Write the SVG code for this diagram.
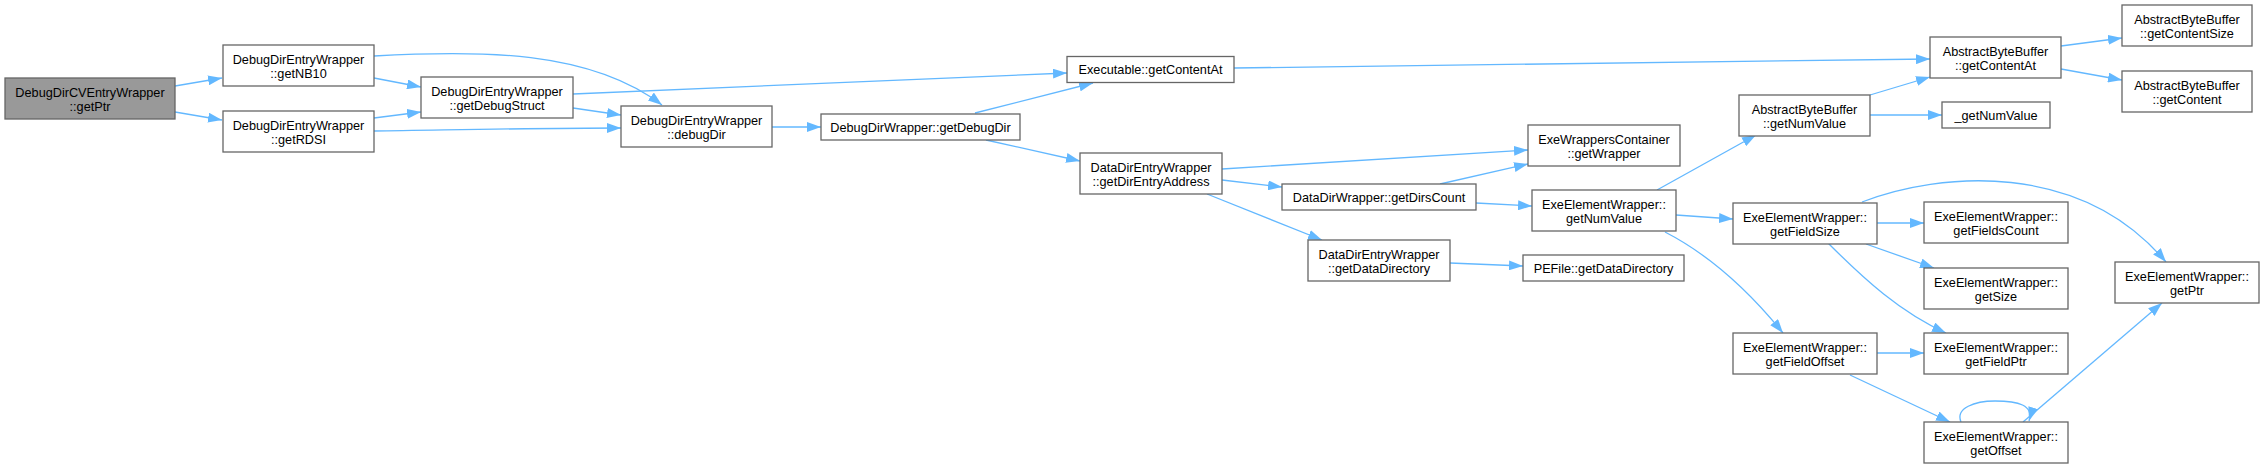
<svg xmlns="http://www.w3.org/2000/svg" width="2264" height="469" viewBox="0 0 2264 469">
<style>
.n rect{fill:#fff;stroke:#666;stroke-width:1.3}
.n.root rect{fill:#999}
.n text{font-family:"Liberation Sans",Arial,Helvetica,sans-serif;font-size:12.7px;fill:#000;text-anchor:middle}
.e path{fill:none;stroke:#63b8ff;stroke-width:1.3;marker-end:url(#ah)}
</style>
<defs>
<marker id="ah" viewBox="0 0 14 10" refX="14" refY="5" markerWidth="14" markerHeight="10" markerUnits="userSpaceOnUse" orient="auto">
<path d="M0,0 L14,5 L0,10z" fill="#63b8ff" stroke="none"/>
</marker>
</defs>
<rect width="2264" height="469" fill="#fff"/>
<g class="e" id="edges">
<path d="M175,86 L222,78"/>
<path d="M175,112 L222,120"/>
<path d="M374,78 L421,87"/>
<path d="M374,56 C480,50 590,50 662,105"/>
<path d="M374,118 L421,112"/>
<path d="M374,131 C450,130 540,128 621,128"/>
<path d="M573,94 L1067,73"/>
<path d="M573,108 L621,115"/>
<path d="M772,127 L821,127"/>
<path d="M975,113 L1093,83"/>
<path d="M986,140 L1080,161"/>
<path d="M1234,68 L1930,59"/>
<path d="M1222,169 L1528,150"/>
<path d="M1222,180 L1282,187"/>
<path d="M1207,194 L1322,240"/>
<path d="M1440,184 L1528,164"/>
<path d="M1476,203 L1532,206"/>
<path d="M1450,263 L1523,266"/>
<path d="M1657,190 L1756,135"/>
<path d="M1676,215 L1733,219"/>
<path d="M1665,232 C1700,250 1740,280 1783,333"/>
<path d="M1870,95 L1930,77"/>
<path d="M1870,115 L1942,115"/>
<path d="M2061,46 L2122,38"/>
<path d="M2061,69 L2122,80"/>
<path d="M1877,223 L1924,223"/>
<path d="M1866,244 L1934,268"/>
<path d="M1828,243 C1865,280 1900,312 1946,333"/>
<path d="M1862,202 C1940,172 2080,160 2166,262"/>
<path d="M1877,353 L1924,353"/>
<path d="M1850,375 L1950,422"/>
<path d="M1961,422 C1955,408 1975,401 1995,401 C2018,401 2034,405 2029,421"/>
<path d="M2023,422 L2162,303"/>
</g>
<g class="n root" id="n0"><rect x="5" y="78" width="170" height="41"/><text x="90" y="96.5">DebugDirCVEntryWrapper</text><text x="90" y="110.5">::getPtr</text></g>
<g class="n" id="n1"><rect x="223" y="45" width="151" height="41"/><text x="298.5" y="63.5">DebugDirEntryWrapper</text><text x="298.5" y="77.5">::getNB10</text></g>
<g class="n" id="n2"><rect x="223" y="111" width="151" height="41"/><text x="298.5" y="129.5">DebugDirEntryWrapper</text><text x="298.5" y="143.5">::getRDSI</text></g>
<g class="n" id="n3"><rect x="421" y="77" width="152" height="41"/><text x="497" y="95.5">DebugDirEntryWrapper</text><text x="497" y="109.5">::getDebugStruct</text></g>
<g class="n" id="n4"><rect x="621" y="106" width="151" height="41"/><text x="696.5" y="124.5">DebugDirEntryWrapper</text><text x="696.5" y="138.5">::debugDir</text></g>
<g class="n" id="n5"><rect x="821" y="114" width="199" height="26"/><text x="920.5" y="131.5">DebugDirWrapper::getDebugDir</text></g>
<g class="n" id="n6"><rect x="1067" y="56.5" width="167" height="26"/><text x="1150.5" y="74">Executable::getContentAt</text></g>
<g class="n" id="n7"><rect x="1080" y="153" width="142" height="41"/><text x="1151" y="171.5">DataDirEntryWrapper</text><text x="1151" y="185.5">::getDirEntryAddress</text></g>
<g class="n" id="n8"><rect x="1528" y="125" width="152" height="41"/><text x="1604" y="143.5">ExeWrappersContainer</text><text x="1604" y="157.5">::getWrapper</text></g>
<g class="n" id="n9"><rect x="1282" y="184" width="194" height="26"/><text x="1379" y="201.5">DataDirWrapper::getDirsCount</text></g>
<g class="n" id="n10"><rect x="1532" y="190" width="144" height="41"/><text x="1604" y="208.5">ExeElementWrapper::</text><text x="1604" y="222.5">getNumValue</text></g>
<g class="n" id="n11"><rect x="1308" y="240" width="142" height="41"/><text x="1379" y="258.5">DataDirEntryWrapper</text><text x="1379" y="272.5">::getDataDirectory</text></g>
<g class="n" id="n12"><rect x="1523" y="255" width="161" height="26"/><text x="1603.5" y="272.5">PEFile::getDataDirectory</text></g>
<g class="n" id="n13"><rect x="1739" y="95" width="131" height="41"/><text x="1804.5" y="113.5">AbstractByteBuffer</text><text x="1804.5" y="127.5">::getNumValue</text></g>
<g class="n" id="n14"><rect x="1942" y="102" width="108" height="26"/><text x="1996" y="119.5">_getNumValue</text></g>
<g class="n" id="n15"><rect x="1930" y="37" width="131" height="41"/><text x="1995.5" y="55.5">AbstractByteBuffer</text><text x="1995.5" y="69.5">::getContentAt</text></g>
<g class="n" id="n16"><rect x="2122" y="5" width="130" height="41"/><text x="2187" y="23.5">AbstractByteBuffer</text><text x="2187" y="37.5">::getContentSize</text></g>
<g class="n" id="n17"><rect x="2122" y="71" width="130" height="41"/><text x="2187" y="89.5">AbstractByteBuffer</text><text x="2187" y="103.5">::getContent</text></g>
<g class="n" id="n18"><rect x="1733" y="203" width="144" height="41"/><text x="1805" y="221.5">ExeElementWrapper::</text><text x="1805" y="235.5">getFieldSize</text></g>
<g class="n" id="n19"><rect x="1733" y="333" width="144" height="41"/><text x="1805" y="351.5">ExeElementWrapper::</text><text x="1805" y="365.5">getFieldOffset</text></g>
<g class="n" id="n20"><rect x="1924" y="202" width="144" height="41"/><text x="1996" y="220.5">ExeElementWrapper::</text><text x="1996" y="234.5">getFieldsCount</text></g>
<g class="n" id="n21"><rect x="1924" y="268" width="144" height="41"/><text x="1996" y="286.5">ExeElementWrapper::</text><text x="1996" y="300.5">getSize</text></g>
<g class="n" id="n22"><rect x="1924" y="333" width="144" height="41"/><text x="1996" y="351.5">ExeElementWrapper::</text><text x="1996" y="365.5">getFieldPtr</text></g>
<g class="n" id="n23"><rect x="1924" y="422" width="144" height="41"/><text x="1996" y="440.5">ExeElementWrapper::</text><text x="1996" y="454.5">getOffset</text></g>
<g class="n" id="n24"><rect x="2115" y="262" width="144" height="41"/><text x="2187" y="280.5">ExeElementWrapper::</text><text x="2187" y="294.5">getPtr</text></g>
</svg>
